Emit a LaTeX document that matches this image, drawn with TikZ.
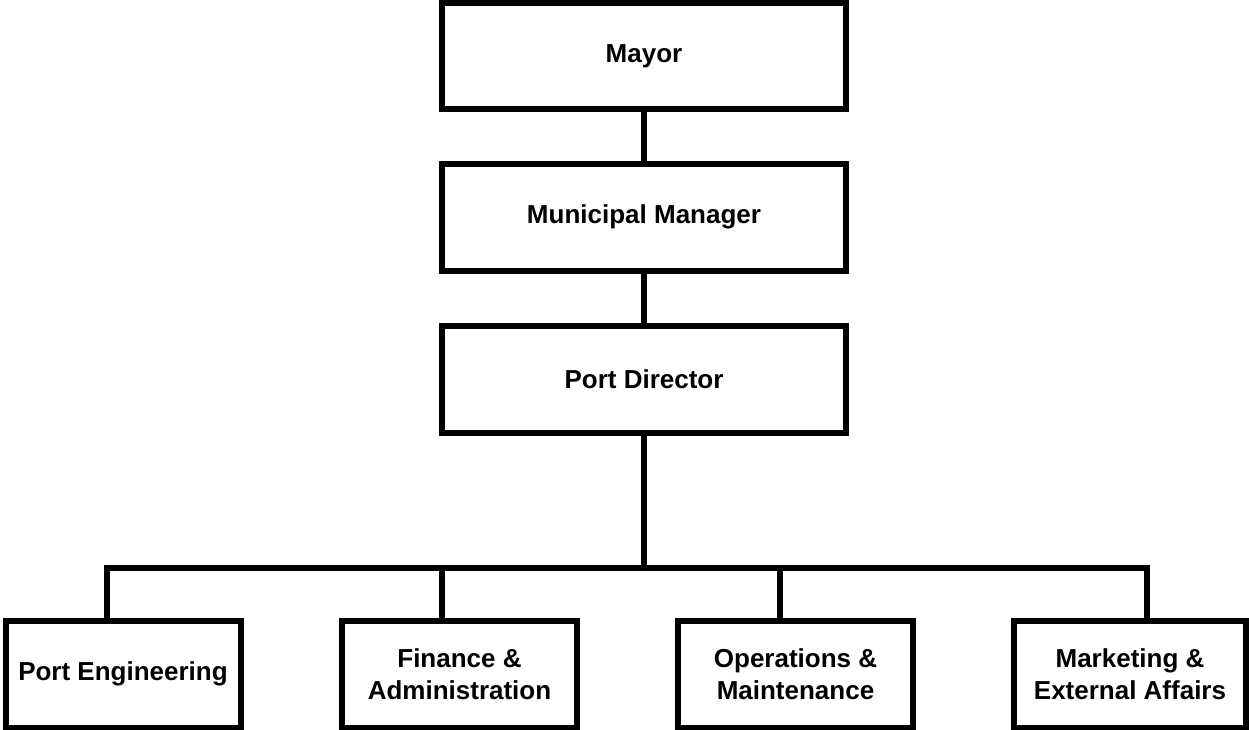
\documentclass[tikz,border=0pt]{standalone}
\usepackage{fontspec}
\setmainfont{Liberation Sans}
\begin{document}
\begin{tikzpicture}[x=1pt,y=-1pt,
  orgbox/.style={draw=black, line width=6pt, inner sep=0pt, align=center,
    font=\fontsize{26}{32}\selectfont\bfseries, fill=white},
  link/.style={draw=black, line width=6pt}]
\useasboundingbox (0,0) rectangle (1249,730);
\node[orgbox, minimum width=404pt, minimum height=106.5pt] (mayor) at (644,56.25) {Mayor};
\node[orgbox, minimum width=404pt, minimum height=106.5pt] (mm) at (644,217.25) {Municipal Manager};
\node[orgbox, minimum width=404pt, minimum height=107.5pt] (pd) at (644,379.25) {Port Director};
\node[orgbox, minimum width=235pt, minimum height=107pt] (pe) at (123,674) {Port Engineering};
\node[orgbox, minimum width=235pt, minimum height=107pt] (fa) at (459.5,674) {Finance \&\\Administration};
\node[orgbox, minimum width=235pt, minimum height=107pt] (om) at (795.5,674) {Operations \&\\Maintenance};
\node[orgbox, minimum width=232pt, minimum height=107pt] (mk) at (1130,674) {Marketing \&\\External Affairs};
\coordinate (bus) at (644,567.5);
\coordinate (d1) at (106.5,567.5);
\coordinate (d2) at (442,567.5);
\coordinate (d3) at (779.5,567.5);
\coordinate (d4) at (1147,567.5);
\draw[link] (mayor.south) -- (mm.north);
\draw[link] (mm.south) -- (pd.north);
\draw[link] (pd.south) -- (bus);
\draw[link] (pe.north -| d1) -- (d1) -- (d4) -- (mk.north -| d4);
\draw[link] (d2) -- (fa.north -| d2);
\draw[link] (d3) -- (om.north -| d3);
\end{tikzpicture}
\end{document}
